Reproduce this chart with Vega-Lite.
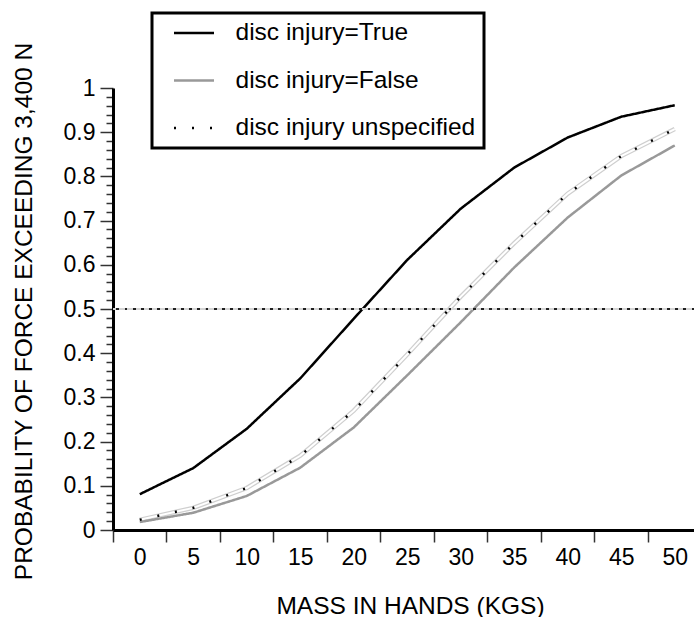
{
  "$schema": "https://vega.github.io/schema/vega-lite/v6.json",
  "autosize": {"type": "none"},
  "padding": {"left": 113, "top": 88, "right": 0, "bottom": 87},
  "width": 581,
  "height": 442,
  "background": "white",
  "config": {
    "view": {"stroke": null},
    "font": "Liberation Sans",
    "axis": {"grid": false, "domainColor": "black", "domainWidth": 3, "tickColor": "#333", "tickWidth": 1.5, "labelColor": "black", "titleColor": "black", "labelFont": "Liberation Sans", "titleFont": "Liberation Sans", "titleFontWeight": "normal", "labelFontSize": 23, "titleFontSize": 24.5, "labelOverlap": false, "labelBound": false, "labelFlush": false}
  },
  "resolve": {"axis": {"y": "independent"}},
  "data": {
    "values": [
      {"mass": 0, "p": 0.081, "series": "disc injury=True"},
      {"mass": 5, "p": 0.14, "series": "disc injury=True"},
      {"mass": 10, "p": 0.229, "series": "disc injury=True"},
      {"mass": 15, "p": 0.343, "series": "disc injury=True"},
      {"mass": 20, "p": 0.478, "series": "disc injury=True"},
      {"mass": 25, "p": 0.611, "series": "disc injury=True"},
      {"mass": 30, "p": 0.727, "series": "disc injury=True"},
      {"mass": 35, "p": 0.82, "series": "disc injury=True"},
      {"mass": 40, "p": 0.888, "series": "disc injury=True"},
      {"mass": 45, "p": 0.935, "series": "disc injury=True"},
      {"mass": 50, "p": 0.961, "series": "disc injury=True"},
      {"mass": 0, "p": 0.018, "series": "disc injury=False"},
      {"mass": 5, "p": 0.039, "series": "disc injury=False"},
      {"mass": 10, "p": 0.077, "series": "disc injury=False"},
      {"mass": 15, "p": 0.141, "series": "disc injury=False"},
      {"mass": 20, "p": 0.232, "series": "disc injury=False"},
      {"mass": 25, "p": 0.35, "series": "disc injury=False"},
      {"mass": 30, "p": 0.47, "series": "disc injury=False"},
      {"mass": 35, "p": 0.594, "series": "disc injury=False"},
      {"mass": 40, "p": 0.707, "series": "disc injury=False"},
      {"mass": 45, "p": 0.802, "series": "disc injury=False"},
      {"mass": 50, "p": 0.87, "series": "disc injury=False"},
      {"mass": 0, "p": 0.023, "series": "disc injury unspecified"},
      {"mass": 5, "p": 0.05, "series": "disc injury unspecified"},
      {"mass": 10, "p": 0.095, "series": "disc injury unspecified"},
      {"mass": 15, "p": 0.168, "series": "disc injury unspecified"},
      {"mass": 20, "p": 0.27, "series": "disc injury unspecified"},
      {"mass": 25, "p": 0.397, "series": "disc injury unspecified"},
      {"mass": 30, "p": 0.528, "series": "disc injury unspecified"},
      {"mass": 35, "p": 0.649, "series": "disc injury unspecified"},
      {"mass": 40, "p": 0.761, "series": "disc injury unspecified"},
      {"mass": 45, "p": 0.846, "series": "disc injury unspecified"},
      {"mass": 50, "p": 0.907, "series": "disc injury unspecified"}
    ]
  },
  "layer": [
    {
      "transform": [{"filter": "datum.series == 'disc injury unspecified'"}],
      "mark": {"type": "line", "color": "#cfcfcf", "strokeWidth": 4.5},
      "encoding": {
        "x": {
          "field": "mass", "type": "quantitative",
          "scale": {"domain": [-2.5, 51.8], "nice": false, "zero": false},
          "axis": {
            "title": "MASS IN HANDS (KGS)",
            "values": [-2.5, 2.5, 7.5, 12.5, 17.5, 22.5, 27.5, 32.5, 37.5, 42.5, 47.5],
            "labelExpr": "format(datum.value + 2.5, 'd')",
            "labelOffset": 26.75, "tickSize": 12, "labelPadding": 4,
            "titleX": 297, "titleY": 83, "titleBaseline": "alphabetic", "titleAnchor": "middle"
          }
        },
        "y": {
          "field": "p", "type": "quantitative",
          "scale": {"domain": [0, 1], "nice": false},
          "axis": {
            "orient": "left",
            "values": [0.02, 0.04, 0.06, 0.08, 0.12, 0.14, 0.16, 0.18, 0.22, 0.24, 0.26, 0.28, 0.32, 0.34, 0.36, 0.38, 0.42, 0.44, 0.46, 0.48, 0.52, 0.54, 0.56, 0.58, 0.62, 0.64, 0.66, 0.68, 0.72, 0.74, 0.76, 0.78, 0.82, 0.84, 0.86, 0.88, 0.92, 0.94, 0.96, 0.98],
            "tickSize": 7, "labels": false, "domain": false, "title": null
          }
        }
      }
    },
    {
      "transform": [{"filter": "datum.series == 'disc injury unspecified'"}],
      "mark": {"type": "line", "color": "white", "strokeWidth": 2},
      "encoding": {
        "x": {
          "field": "mass", "type": "quantitative",
          "scale": {"domain": [-2.5, 51.8], "nice": false, "zero": false},
          "axis": {
            "title": "MASS IN HANDS (KGS)",
            "values": [-2.5, 2.5, 7.5, 12.5, 17.5, 22.5, 27.5, 32.5, 37.5, 42.5, 47.5],
            "labelExpr": "format(datum.value + 2.5, 'd')",
            "labelOffset": 26.75, "tickSize": 12, "labelPadding": 4,
            "titleX": 297, "titleY": 83, "titleBaseline": "alphabetic", "titleAnchor": "middle"
          }
        },
        "y": {
          "field": "p", "type": "quantitative",
          "scale": {"domain": [0, 1], "nice": false},
          "axis": null
        }
      }
    },
    {
      "mark": {"type": "line", "strokeWidth": 2.5},
      "encoding": {
        "x": {
          "field": "mass", "type": "quantitative",
          "scale": {"domain": [-2.5, 51.8], "nice": false, "zero": false},
          "axis": {
            "title": "MASS IN HANDS (KGS)",
            "values": [-2.5, 2.5, 7.5, 12.5, 17.5, 22.5, 27.5, 32.5, 37.5, 42.5, 47.5],
            "labelExpr": "format(datum.value + 2.5, 'd')",
            "labelOffset": 26.75, "tickSize": 12, "labelPadding": 4,
            "titleX": 297, "titleY": 83, "titleBaseline": "alphabetic", "titleAnchor": "middle"
          }
        },
        "y": {
          "field": "p", "type": "quantitative",
          "scale": {"domain": [0, 1], "nice": false},
          "axis": {
            "orient": "left",
            "title": "PROBABILITY OF FORCE EXCEEDING 3,400 N",
            "values": [0, 0.1, 0.2, 0.3, 0.4, 0.5, 0.6, 0.7, 0.8, 0.9, 1],
            "labelExpr": "format(datum.value, '.1~f')",
            "tickSize": 13,
            "labelPadding": 5,
            "titleX": -82, "titleY": 223, "titleAngle": 270, "titleBaseline": "alphabetic", "titleAlign": "center"
          }
        },
        "color": {
          "field": "series", "type": "nominal",
          "scale": {"domain": ["disc injury=True", "disc injury=False", "disc injury unspecified"], "range": ["black", "#999999", "black"]},
          "legend": {
            "title": " ", "titleOrient": "left", "titleFontSize": 1, "titlePadding": 12.5,
            "orient": "none", "legendX": 39, "legendY": -75,
            "symbolType": "stroke", "symbolSize": 1600, "symbolStrokeWidth": 2.5,
            "labelFontSize": 24.5, "labelFont": "Liberation Sans", "labelColor": "black",
            "labelOffset": 20, "labelExpr": "datum.label + '  '",
            "padding": 8, "rowPadding": 22.5, "clipHeight": 24,
            "strokeColor": "black", "fillColor": "white", "labelLimit": 400,
            "encode": {"legend": {"update": {"strokeWidth": {"value": 3}}}}
          }
        },
        "strokeDash": {
          "field": "series", "type": "nominal",
          "scale": {"domain": ["disc injury=True", "disc injury=False", "disc injury unspecified"], "range": [[1, 0], [1, 0], [2, 16]]},
          "legend": {
            "title": " ", "titleOrient": "left", "titleFontSize": 1, "titlePadding": 12.5,
            "orient": "none", "legendX": 39, "legendY": -75,
            "symbolType": "stroke", "symbolSize": 1600, "symbolStrokeWidth": 2.5,
            "labelFontSize": 24.5, "labelFont": "Liberation Sans", "labelColor": "black",
            "labelOffset": 20, "labelExpr": "datum.label + '  '",
            "padding": 8, "rowPadding": 22.5, "clipHeight": 24,
            "strokeColor": "black", "fillColor": "white", "labelLimit": 400,
            "encode": {"legend": {"update": {"strokeWidth": {"value": 3}}}}
          }
        }
      }
    },
    {
      "mark": {"type": "rule", "color": "#d4d4d4", "strokeWidth": 1.5},
      "encoding": {"y": {"datum": 0.5, "type": "quantitative", "axis": null}}
    },
    {
      "mark": {"type": "rule", "color": "#222", "strokeWidth": 2, "strokeDash": [2, 6.1]},
      "encoding": {"y": {"datum": 0.5, "type": "quantitative", "axis": null}}
    }
  ]
}
